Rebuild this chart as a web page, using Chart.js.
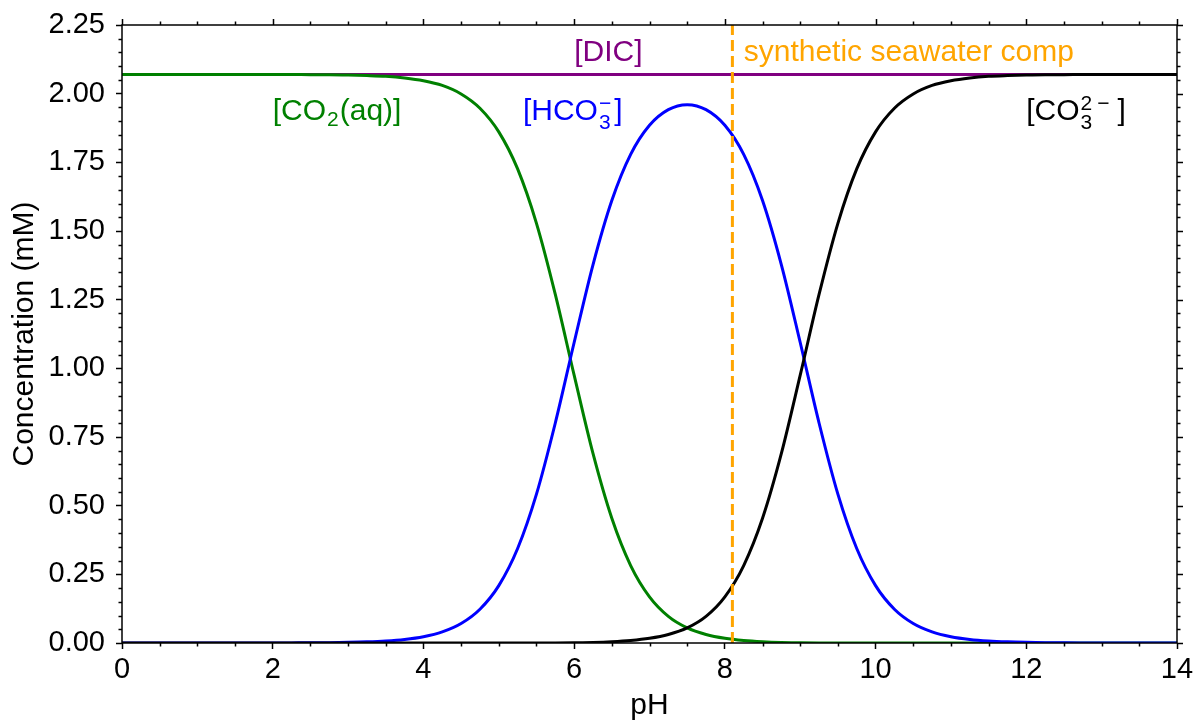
<!DOCTYPE html>
<html>
<head>
<meta charset="utf-8">
<title>Carbonate speciation vs pH</title>
<script src="https://cdn.jsdelivr.net/npm/chart.js@4.4.1/dist/chart.umd.min.js"></script>
<style>
  html, body { margin: 0; padding: 0; background: #fff; }
  #wrap { width: 1195px; height: 721px; }
</style>
</head>
<body>
<div id="wrap"><canvas id="speciation" width="1195" height="721"></canvas></div>
<script>
// pH grid and species concentrations (mM)
const phValues = [
  0, 0.25, 0.5, 0.75, 1, 1.25, 1.5, 1.75, 2, 2.25, 2.5, 2.75,
  3, 3.25, 3.5, 3.75, 4, 4.25, 4.5, 4.75, 5, 5.25, 5.5, 5.75,
  6, 6.25, 6.5, 6.75, 7, 7.25, 7.5, 7.75, 8, 8.25, 8.5, 8.75,
  9, 9.25, 9.5, 9.75, 10, 10.25, 10.5, 10.75, 11, 11.25, 11.5, 11.75,
  12, 12.25, 12.5, 12.75, 13, 13.25, 13.5, 13.75, 14
];
const co2Values = [
  2.07, 2.07, 2.07, 2.07, 2.07, 2.07, 2.07, 2.07, 2.07, 2.07, 2.069, 2.069,
  2.068, 2.066, 2.063, 2.057, 2.047, 2.030, 1.999, 1.947, 1.861, 1.726, 1.528, 1.269,
  0.975, 0.690, 0.454, 0.282, 0.168, 0.097, 0.055, 0.031, 0.017, 0.009, 0.0045, 0.002,
  0.001, 0.0004, 0.0002, 0, 0, 0, 0, 0, 0, 0, 0, 0,
  0, 0, 0, 0, 0, 0, 0, 0, 0
];
const hco3Values = [
  0, 0, 0, 0, 0, 0, 0, 0.0001, 0.0002, 0.0004, 0.0007, 0.0013,
  0.0023, 0.0041, 0.0073, 0.013, 0.023, 0.0405, 0.071, 0.123, 0.209, 0.344, 0.542, 0.801,
  1.094, 1.377, 1.611, 1.779, 1.885, 1.942, 1.960, 1.942, 1.885, 1.779, 1.611, 1.377,
  1.094, 0.801, 0.542, 0.344, 0.209, 0.123, 0.071, 0.0405, 0.023, 0.013, 0.0073, 0.0041,
  0.0023, 0.0013, 0.0007, 0.0004, 0.0002, 0.0001, 0, 0, 0
];
const co3Values = [
  0, 0, 0, 0, 0, 0, 0, 0, 0, 0, 0, 0,
  0, 0, 0, 0, 0, 0, 0, 0, 0, 0, 0.0002, 0.0004,
  0.001, 0.002, 0.0045, 0.009, 0.017, 0.031, 0.055, 0.097, 0.168, 0.282, 0.454, 0.690,
  0.975, 1.269, 1.528, 1.726, 1.861, 1.947, 1.999, 2.030, 2.047, 2.057, 2.063, 2.066,
  2.068, 2.069, 2.069, 2.07, 2.07, 2.07, 2.07, 2.07, 2.07
];
const dicPh = [0, 14];
const dicValues = [2.07, 2.07];
const seawaterPh = 8.1;
const seawaterSpan = [0, 2.25];

const xTicks = [0, 2, 4, 6, 8, 10, 12, 14];
const yTicks = [0, 0.25, 0.5, 0.75, 1, 1.25, 1.5, 1.75, 2, 2.25];

const FONT = '"Liberation Sans", Arial, Helvetica, sans-serif';
const TEXT_SIZE = 30;

Chart.defaults.font.family = FONT;
Chart.defaults.color = '#000';

const toPoints = (xs, ys) => xs.map((x, i) => ({ x: x, y: ys[i] }));

/**
 * Frame around the plot area, top/right tick marks and minor ticks.
 * Major ticks on the bottom and left axes come from Chart.js itself.
 */
const frameTicks = {
  id: 'frameTicks',
  afterDatasetsDraw(chart) {
    const { ctx, chartArea, scales } = chart;
    const { left, right, top, bottom } = chartArea;
    const x = scales.x;
    const y = scales.y;
    const major = 6;
    const minor = 3.5;

    ctx.save();
    ctx.strokeStyle = '#000';
    ctx.lineWidth = 1.5;
    ctx.strokeRect(left, top, right - left, bottom - top);

    ctx.beginPath();
    // x: minor every 0.5, major every 2
    for (let i = 0; i <= 28; i++) {
      const px = Math.round(x.getPixelForValue(i * 0.5)) + 0.5;
      const isMajor = i % 4 === 0;
      const len = isMajor ? major : minor;
      ctx.moveTo(px, top);
      ctx.lineTo(px, top - len);
      if (!isMajor) {
        ctx.moveTo(px, bottom);
        ctx.lineTo(px, bottom + len);
      }
    }
    // y: minor every 0.05, major every 0.25
    for (let j = 0; j <= 45; j++) {
      const py = Math.round(y.getPixelForValue(j * 0.05)) + 0.5;
      const isMajor = j % 5 === 0;
      const len = isMajor ? major : minor;
      ctx.moveTo(right, py);
      ctx.lineTo(right + len, py);
      if (!isMajor) {
        ctx.moveTo(left, py);
        ctx.lineTo(left - len, py);
      }
    }
    ctx.stroke();
    ctx.restore();
  }
};

/**
 * Draw a label made of runs; runs flagged `stack` don't advance the pen
 * so the next run sits on top of them (sub + superscript pairs).
 */
function drawRuns(ctx, x, y, runs, color) {
  ctx.fillStyle = color;
  ctx.textAlign = 'left';
  ctx.textBaseline = 'alphabetic';
  let cx = x;
  runs.forEach(r => {
    const size = r.size || TEXT_SIZE;
    ctx.font = `${size}px ${FONT}`;
    ctx.fillText(r.text, cx + (r.dx || 0), y + (r.dy || 0));
    if (!r.stack) {
      cx += ctx.measureText(r.text).width + (r.dx || 0);
    }
  });
}

const SUB = 21;

// Species labels, anchored in data coordinates (left, baseline)
const speciesLabels = [
  { x: 6.0, y: 2.12, color: '#800080', runs: [{ text: '[DIC]' }] },
  { x: 8.25, y: 2.12, color: '#ffa500', runs: [{ text: 'synthetic seawater comp' }] },
  {
    x: 2.0, y: 1.905, color: '#008000',
    runs: [{ text: '[CO' }, { text: '2', size: SUB, dy: 6, dx: 1 }, { text: '(aq)]', dx: 1 }]
  },
  {
    x: 5.32, y: 1.905, color: '#0000ff',
    runs: [
      { text: '[HCO' },
      { text: '3', size: SUB, dy: 9, dx: 1, stack: true },
      { text: '\u2212', size: SUB, dy: -10, dx: 1 },
      { text: ']', dx: 3 }
    ]
  },
  {
    x: 12.0, y: 1.905, color: '#000000',
    runs: [
      { text: '[CO' },
      { text: '3', size: SUB, dy: 9, dx: 1, stack: true },
      { text: '2', size: SUB, dy: -10, dx: 1 },
      { text: '\u2212', size: SUB, dy: -10, dx: 5 },
      { text: ']', dx: 8 }
    ]
  }
];

const speciesText = {
  id: 'speciesText',
  afterDraw(chart) {
    const { ctx, scales } = chart;
    ctx.save();
    speciesLabels.forEach(lbl => {
      const px = scales.x.getPixelForValue(lbl.x);
      const py = scales.y.getPixelForValue(lbl.y);
      drawRuns(ctx, px, py, lbl.runs, lbl.color);
    });
    ctx.restore();
  }
};

const curve = (label, color, xs, ys, order) => ({
  label: label,
  data: toPoints(xs, ys),
  borderColor: color,
  borderWidth: 3,
  pointRadius: 0,
  cubicInterpolationMode: 'monotone',
  fill: false,
  order: order
});

const ctx = document.getElementById('speciation').getContext('2d');

new Chart(ctx, {
  type: 'line',
  data: {
    datasets: [
      {
        label: 'synthetic seawater comp',
        data: seawaterSpan.map(v => ({ x: seawaterPh, y: v })),
        borderColor: '#ffa500',
        borderWidth: 3,
        borderDash: [11, 5],
        pointRadius: 0,
        fill: false,
        order: 0
      },
      curve('[CO3 2-]', '#000000', phValues, co3Values, 1),
      curve('[HCO3-]', '#0000ff', phValues, hco3Values, 2),
      curve('[CO2(aq)]', '#008000', phValues, co2Values, 3),
      curve('[DIC]', '#800080', dicPh, dicValues, 4)
    ]
  },
  options: {
    responsive: false,
    devicePixelRatio: 1,
    animation: false,
    events: [],
    layout: {
      padding: { top: 25, right: 18, bottom: 0, left: 0 }
    },
    plugins: {
      legend: { display: false },
      tooltip: { enabled: false }
    },
    scales: {
      x: {
        type: 'linear',
        min: 0,
        max: 14,
        afterBuildTicks: scale => {
          scale.ticks = xTicks.map(v => ({ value: v }));
        },
        ticks: {
          font: { size: 29 },
          color: '#000',
          padding: 4,
          maxRotation: 0,
          autoSkip: false,
          callback: v => String(v)
        },
        grid: {
          display: true,
          drawOnChartArea: false,
          drawTicks: true,
          tickLength: 6,
          tickWidth: 1.5,
          tickColor: '#000',
          color: '#000'
        },
        border: { display: false },
        title: {
          display: true,
          text: 'pH',
          font: { size: TEXT_SIZE, lineHeight: 1 },
          color: '#000',
          padding: { top: 0, bottom: 0 }
        },
        afterFit: scale => {
          scale.height = 78;
          // edge labels fit inside the layout padding already
          scale.paddingLeft = 0;
          scale.paddingRight = 0;
        }
      },
      y: {
        type: 'linear',
        min: 0,
        max: 2.25,
        afterBuildTicks: scale => {
          scale.ticks = yTicks.map(v => ({ value: v }));
        },
        ticks: {
          font: { size: 29 },
          color: '#000',
          padding: 11,
          autoSkip: false,
          callback: v => v.toFixed(2)
        },
        grid: {
          display: true,
          drawOnChartArea: false,
          drawTicks: true,
          tickLength: 6,
          tickWidth: 1.5,
          tickColor: '#000',
          color: '#000'
        },
        border: { display: false },
        title: {
          display: true,
          text: 'Concentration (mM)',
          font: { size: TEXT_SIZE },
          color: '#000',
          padding: { top: 7, bottom: 0 }
        },
        afterFit: scale => {
          scale.width = 122;
          scale.paddingTop = 0;
          scale.paddingBottom = 0;
        }
      }
    }
  },
  plugins: [frameTicks, speciesText]
});
</script>
</body>
</html>
